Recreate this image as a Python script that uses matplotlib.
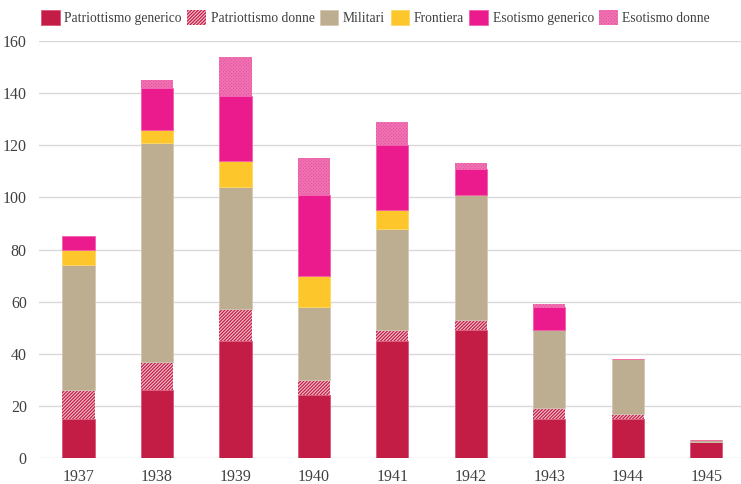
import numpy as np
import matplotlib.pyplot as plt

plt.rcParams['font.family'] = ['Liberation Serif', 'DejaVu Serif']
plt.rcParams['hatch.linewidth'] = 0.8

anni = ['1937', '1938', '1939', '1940', '1941', '1942', '1943', '1944', '1945']
patriottismo_generico = [15, 26, 45, 24, 45, 49, 15, 15, 6]
patriottismo_donne = [11, 11, 12, 6, 4, 4, 4, 2, 0]
militari = [48, 84, 47, 28, 39, 48, 30, 21, 1]
frontiera = [6, 5, 10, 12, 7, 0, 0, 0, 0]
esotismo_generico = [5, 16, 25, 31, 25, 10, 9, 0, 0]
esotismo_donne = [0, 3, 15, 14, 9, 2, 1, 0, 0]

serie = [
    ('Patriottismo generico', patriottismo_generico, '#C41D45', None, '#D9587A'),
    ('Patriottismo donne', patriottismo_donne, '#C41D45', '/' * 10, '#F2C2CF'),
    ('Militari', militari, '#BEAE91', None, '#D3C8B4'),
    ('Frontiera', frontiera, '#FDC72B', None, '#FDD866'),
    ('Esotismo generico', esotismo_generico, '#EC1B8D', None, '#F25FAE'),
    ('Esotismo donne', esotismo_donne, '#E9509D', 'x' * 10, '#EF72B2'),
]

fig = plt.figure(figsize=(7.41, 4.84), dpi=100)
ax = fig.add_axes([0.053, 0.0537, 0.953, 0.8616])

x = np.arange(len(anni))
base = np.zeros(len(anni))
for nome, val, col, hatch, bordo in serie:
    val = np.array(val, dtype=float)
    if hatch:
        ax.bar(x, val, 0.41, bottom=base, color=col, hatch=hatch,
               edgecolor=bordo, linewidth=0, label=nome, zorder=3)
    else:
        ax.bar(x, val, 0.41, bottom=base, color=col, edgecolor=bordo,
               linewidth=0.6, label=nome, zorder=3)
    base += val

ax.set_xlim(-0.5, len(anni) - 0.5)
ax.set_ylim(0, 160)
ax.set_yticks(np.arange(0, 161, 20))
ax.set_xticks(x)
ax.set_xticklabels(anni)
ax.grid(axis='y', color='#D9D9D9', linewidth=1, zorder=0)
for s in ax.spines.values():
    s.set_visible(False)
ax.tick_params(length=0, labelsize=11.5, colors='#404040', pad=8)
ax.tick_params(axis='y', pad=9)

fig.legend(loc='upper center', bbox_to_anchor=(0.507, 1.005), ncol=6, frameon=False,
           fontsize=9.8, handlelength=1.35, handleheight=1.35, handletextpad=0.35,
           columnspacing=0.4, labelcolor='#404040')

fig.savefig('out.png', dpi=100)
